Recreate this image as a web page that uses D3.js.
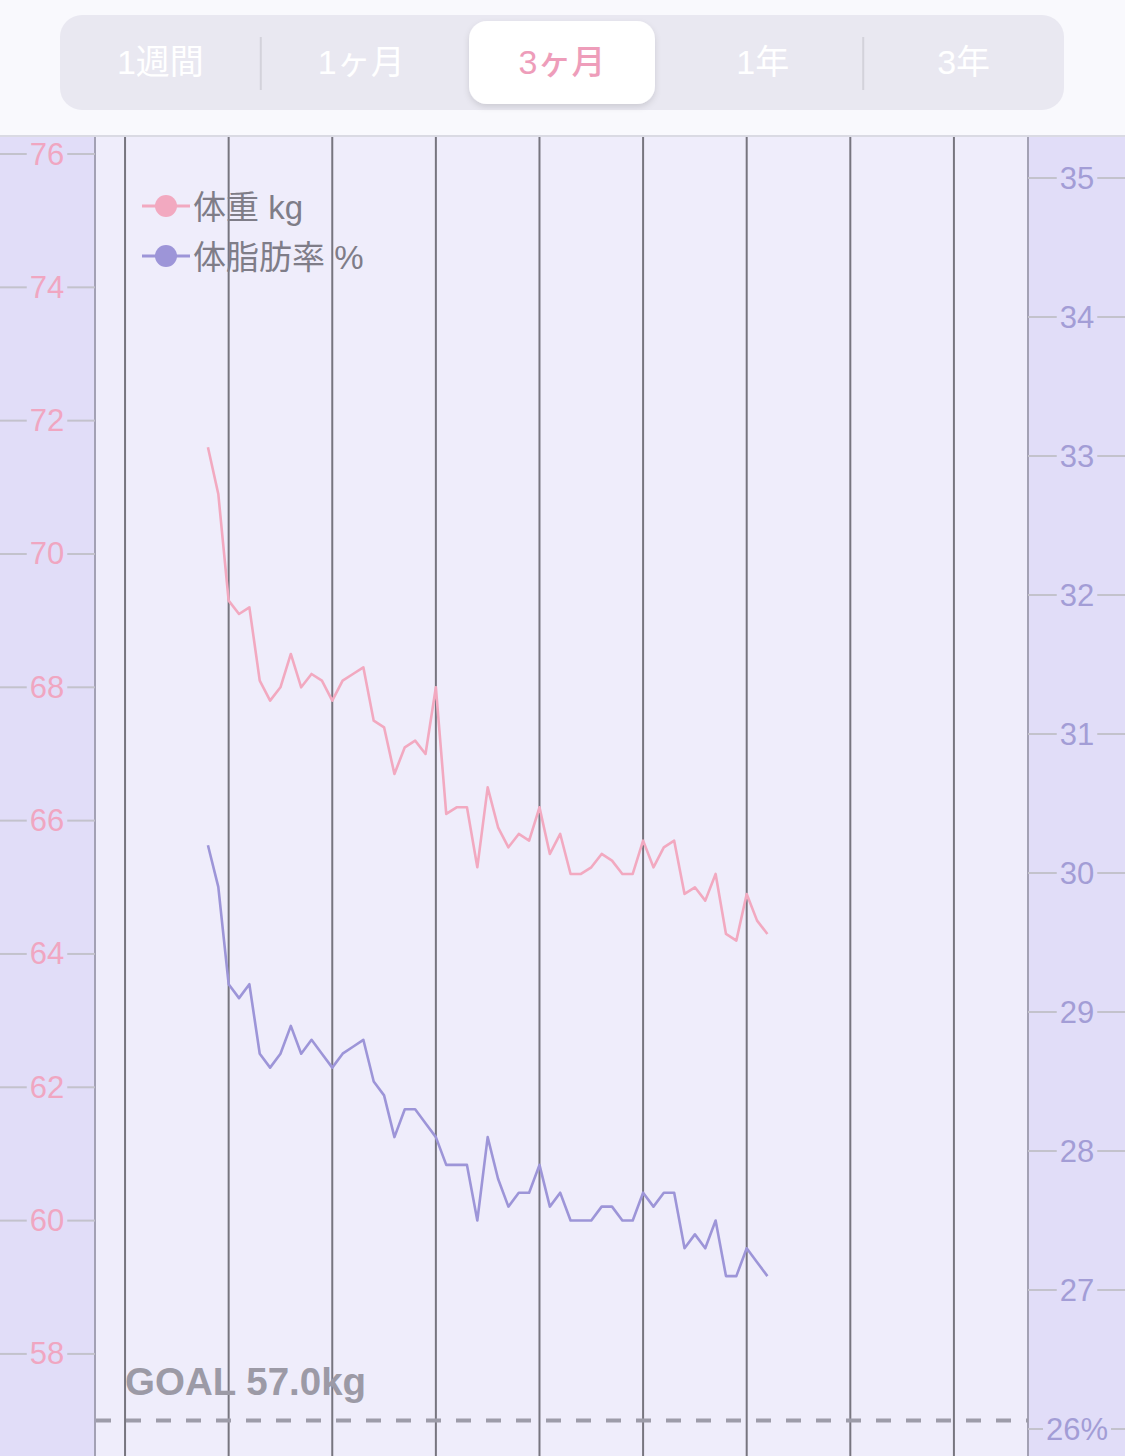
<!DOCTYPE html>
<html><head><meta charset="utf-8">
<script src="https://cdn.jsdelivr.net/npm/d3@7"></script>
<style>
body{margin:0;background:#f9f9fd;}
svg{display:block;}
</style></head>
<body>
<svg id="c" width="1125" height="1456"></svg>
<script>
// ---- data ----
const segments = ["1週間","1ヶ月","3ヶ月","1年","3年"];
const selectedSegment = "3ヶ月";
const days = [8,9,10,11,12,13,14,15,16,17,18,19,20,21,22,23,24,25,26,27,28,29,30,31,32,33,34,35,36,37,38,39,40,41,42,43,44,45,46,47,48,49,50,51,52,53,54,55,56,57,58,59,60,61,62];
const weight = [71.6,70.9,69.3,69.1,69.2,68.1,67.8,68.0,68.5,68.0,68.2,68.1,67.8,68.1,68.2,68.3,67.5,67.4,66.7,67.1,67.2,67.0,68.0,66.1,66.2,66.2,65.3,66.5,65.9,65.6,65.8,65.7,66.2,65.5,65.8,65.2,65.2,65.3,65.5,65.4,65.2,65.2,65.7,65.3,65.6,65.7,64.9,65.0,64.8,65.2,64.3,64.2,64.9,64.5,64.3];
const bodyFat = [30.2,29.9,29.2,29.1,29.2,28.7,28.6,28.7,28.9,28.7,28.8,28.7,28.6,28.7,28.75,28.8,28.5,28.4,28.1,28.3,28.3,28.2,28.1,27.9,27.9,27.9,27.5,28.1,27.8,27.6,27.7,27.7,27.9,27.6,27.7,27.5,27.5,27.5,27.6,27.6,27.5,27.5,27.7,27.6,27.7,27.7,27.3,27.4,27.3,27.5,27.1,27.1,27.3,27.2,27.1];
const gridDays = [0,10,20,30,40,50,60,70,80];
const weightTicks = [58,60,62,64,66,68,70,72,74,76];
const fatTicks = [26,27,28,29,30,31,32,33,34,35];
const fatTickLabels = ["26%","27","28","29","30","31","32","33","34","35"];
const goalWeight = 57.0;
const legendItems = [{label:"体重 kg", key:"w"},{label:"体脂肪率 %", key:"f"}];

// ---- style ----
const W = 1125, H = 1456;
const plotL = 95, plotR = 1028, plotT = 136;
const pink = "#f2a9c0", purple = "#9d95d8";
const svg = d3.select("#c");

// header
svg.append("rect").attr("x",0).attr("y",0).attr("width",W).attr("height",plotT).attr("fill","#f9f9fd");
const seg = d3.scaleBand().domain(segments).range([60,1064]);
const defs = svg.append("defs");
const f = defs.append("filter").attr("id","sh").attr("x","-20%").attr("y","-20%").attr("width","140%").attr("height","150%");
f.append("feDropShadow").attr("dx",0).attr("dy",3).attr("stdDeviation",3).attr("flood-color","#000").attr("flood-opacity",0.12);
svg.append("rect").attr("x",60).attr("y",15).attr("width",1004).attr("height",95).attr("rx",22).attr("fill","#e9e8f1");
const selIdx = segments.indexOf(selectedSegment);
for (let i=1;i<segments.length;i++){
  if (i===selIdx || i===selIdx+1) continue;
  const x = seg(segments[i]);
  svg.append("line").attr("x1",x).attr("x2",x).attr("y1",37).attr("y2",90).attr("stroke","#d3d2db").attr("stroke-width",2);
}
svg.append("rect").attr("x",seg(selectedSegment)+seg.bandwidth()/2-93).attr("y",21).attr("width",186).attr("height",83).attr("rx",18).attr("fill","#fff").attr("filter","url(#sh)");
svg.selectAll("text.seg").data(segments).join("text").attr("class","seg")
  .attr("x",d=>seg(d)+seg.bandwidth()/2).attr("y",62)
  .attr("text-anchor","middle").attr("dominant-baseline","central")
  .attr("font-family","'Liberation Sans','Noto Sans CJK JP', sans-serif").attr("font-size",34)
  .attr("font-weight",d=>d===selectedSegment?500:400)
  .attr("fill",d=>d===selectedSegment?"#ee9dba":"#ffffff")
  .text(d=>d);

// chart backgrounds
svg.append("rect").attr("x",0).attr("y",plotT).attr("width",plotL).attr("height",H-plotT).attr("fill","#e1ddf8");
svg.append("rect").attr("x",plotR).attr("y",plotT).attr("width",W-plotR).attr("height",H-plotT).attr("fill","#e1ddf8");
svg.append("rect").attr("x",plotL).attr("y",plotT).attr("width",plotR-plotL).attr("height",H-plotT).attr("fill","#efedfb");
svg.append("line").attr("x1",0).attr("x2",W).attr("y1",plotT).attr("y2",plotT).attr("stroke","#dadae3").attr("stroke-width",2);

// scales
const x = d3.scaleLinear().domain([-2.9, 87.15]).range([plotL, plotR]);
const yW = d3.scaleLinear().domain([57,76]).range([1420.6,154]);
const yF = d3.scaleLinear().domain([26,35]).range([1429,178]);

// grid lines
svg.selectAll("line.grid").data(gridDays).join("line").attr("class","grid")
  .attr("x1",d=>x(d)).attr("x2",d=>x(d)).attr("y1",plotT+1).attr("y2",H)
  .attr("stroke","#77757f").attr("stroke-width",2);
[plotL,plotR].forEach(px=>{
  svg.append("line").attr("x1",px).attr("x2",px).attr("y1",plotT+1).attr("y2",H).attr("stroke","#a3a1b4").attr("stroke-width",2);
});

// axis ticks with text gaps
function ticks(vals, labels, scale, x0, x1, cx, color){
  const g = svg.append("g");
  vals.forEach((v,i)=>{
    const y = scale(v);
    const t = g.append("text").attr("x",cx).attr("y",y).attr("text-anchor","middle").attr("dominant-baseline","central")
      .attr("font-family","'Liberation Sans', Arial, sans-serif").attr("font-size",31).attr("fill",color).text(labels[i]);
    const w = t.node().getComputedTextLength();
    g.insert("line","text").attr("x1",x0).attr("x2",cx-w/2-3).attr("y1",y).attr("y2",y).attr("stroke","#c3c2cc").attr("stroke-width",2);
    g.insert("line","text").attr("x1",cx+w/2+3).attr("x2",x1).attr("y1",y).attr("y2",y).attr("stroke","#c3c2cc").attr("stroke-width",2);
  });
}
ticks(weightTicks, weightTicks.map(String), yW, 0, plotL, 47, "#f0a6c1");
ticks(fatTicks, fatTickLabels, yF, plotR, W, 1077, "#a39dd6");

// goal line
svg.append("line").attr("x1",plotL+1).attr("x2",plotR).attr("y1",yW(goalWeight)).attr("y2",yW(goalWeight))
  .attr("stroke","#9d9ca9").attr("stroke-width",4).attr("stroke-dasharray","15,15");
svg.append("text").attr("x",x(0)).attr("y",1395).attr("font-family","'Liberation Sans', Arial, sans-serif")
  .attr("font-weight","bold").attr("font-size",38.5).attr("fill","#9c9aa6").text("GOAL " + goalWeight.toFixed(1) + "kg");

// lines
const lw = d3.line().x((d,i)=>x(days[i])).y(d=>yW(d));
const lf = d3.line().x((d,i)=>x(days[i])).y(d=>yF(d));
svg.append("path").datum(weight).attr("d",lw).attr("fill","none").attr("stroke",pink).attr("stroke-width",2.6).attr("stroke-linejoin","round");
svg.append("path").datum(bodyFat).attr("d",lf).attr("fill","none").attr("stroke",purple).attr("stroke-width",2.6).attr("stroke-linejoin","round");

// legend
const lg = svg.append("g");
legendItems.forEach((it,i)=>{
  const y = 206 + i*50;
  const c = it.key==="w"?pink:purple;
  lg.append("line").attr("x1",142).attr("x2",190).attr("y1",y).attr("y2",y).attr("stroke",c).attr("stroke-width",3);
  lg.append("circle").attr("cx",166).attr("cy",y).attr("r",11).attr("fill",c);
  lg.append("text").attr("x",193).attr("y",y+1).attr("dominant-baseline","central")
    .attr("font-family","'Liberation Sans','Noto Sans CJK JP', sans-serif").attr("font-size",33).attr("fill","#7f7d88").text(it.label);
});
</script>
</body></html>
